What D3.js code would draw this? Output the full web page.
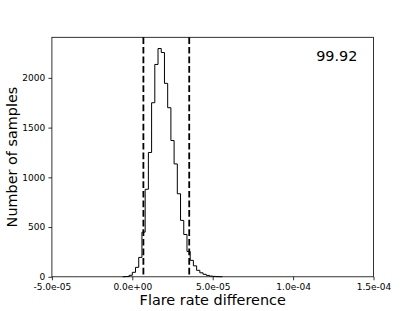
<!DOCTYPE html>
<html>
<head>
<meta charset="utf-8">
<script src="https://cdn.jsdelivr.net/npm/d3@7/dist/d3.min.js"></script>
<style>
  html, body { margin: 0; padding: 0; background: #fff; }
  svg { display: block; }
  text { font-family: "DejaVu Sans", sans-serif; fill: #000; }
</style>
</head>
<body>
<div id="chart"></div>
<script>
// ---- data ----
const binEdges = [-6e-6, -4e-6, -2e-6, 0, 2e-6, 4e-6, 6e-6, 8e-6, 10e-6, 12e-6, 14e-6,
  16e-6, 18e-6, 20e-6, 22e-6, 24e-6, 26e-6, 28e-6, 30e-6, 32e-6, 34e-6, 36e-6,
  38e-6, 40e-6, 42e-6, 44e-6, 46e-6, 48e-6, 50e-6, 52e-6, 54e-6, 56e-6];
const binCounts = [1, 3, 15, 45, 95, 195, 449, 880, 1250, 1750, 2135, 2295, 2255, 1945,
  1700, 1370, 1135, 835, 567, 425, 255, 165, 110, 65, 40, 25, 14, 7, 4, 2, 1];
const intervalLines = [6.9e-6, 35.4e-6];
const xTickValues = [-5e-5, 0, 5e-5, 1e-4, 1.5e-4];
const xTickLabels = ["-5.0e-05", "0.0e+00", "5.0e-05", "1.0e-04", "1.5e-04"];
const yTickValues = [0, 500, 1000, 1500, 2000];
const xDomain = [-5e-5, 1.5e-4];
const yDomain = [0, 2408];
const annotation = "99.92";
const xLabel = "Flare rate difference";
const yLabel = "Number of samples";

// ---- layout ----
const W = 415, H = 311;
const mL = 51.9, mR = 373.5, mT = 37.3, mB = 276.8;

const svg = d3.select("#chart").append("svg")
  .attr("width", W).attr("height", H);
svg.append("rect").attr("width", W).attr("height", H).attr("fill", "#fff");

const x = d3.scaleLinear().domain(xDomain).range([mL, mR]);
const y = d3.scaleLinear().domain(yDomain).range([mB, mT]);

// histogram step outline
const pts = [[binEdges[0], 0]];
binCounts.forEach((c, i) => pts.push([binEdges[i], c]));
pts.push([binEdges[binEdges.length - 1], 0]);
const line = d3.line().x(d => x(d[0])).y(d => y(d[1])).curve(d3.curveStepAfter);
svg.append("path").attr("d", line(pts))
  .attr("fill", "none").attr("stroke", "#000").attr("stroke-width", 1)
  .attr("stroke-linejoin", "miter");

// dashed vertical lines
svg.selectAll("line.vl").data(intervalLines).enter().append("line")
  .attr("class", "vl")
  .attr("x1", d => x(d)).attr("x2", d => x(d))
  .attr("y1", mT).attr("y2", mB)
  .attr("stroke", "#000").attr("stroke-width", 1.8)
  .attr("stroke-dasharray", "6.7,2.9");

// axes
const xAxis = d3.axisBottom(x).tickValues(xTickValues)
  .tickFormat((d, i) => xTickLabels[i]).tickSize(3.5).tickPadding(3.2);
const gx = svg.append("g").attr("transform", `translate(0,${mB})`).call(xAxis);
const yAxis = d3.axisLeft(y).tickValues(yTickValues).tickFormat(d3.format("d"))
  .tickSize(3.5).tickPadding(3.2);
const gy = svg.append("g").attr("transform", `translate(${mL},0)`).call(yAxis);
[gx, gy].forEach(g => {
  g.select(".domain").remove();
  g.selectAll(".tick line").attr("stroke", "#000").attr("stroke-width", 0.8);
  g.selectAll(".tick text").attr("font-size", "9px")
    .attr("font-family", "DejaVu Sans, sans-serif").attr("fill", "#000");
});

// frame
svg.append("rect").attr("x", mL).attr("y", mT)
  .attr("width", mR - mL).attr("height", mB - mT)
  .attr("fill", "none").attr("stroke", "#000").attr("stroke-width", 0.8);

// labels
svg.append("text").attr("x", (mL + mR) / 2).attr("y", 305)
  .attr("text-anchor", "middle").attr("font-size", "14.4px").text(xLabel);
svg.append("text")
  .attr("transform", `translate(17,${(mT + mB) / 2}) rotate(-90)`)
  .attr("text-anchor", "middle").attr("font-size", "14.4px").text(yLabel);
svg.append("text").attr("x", mL + 0.95 * (mR - mL))
  .attr("y", mB - 0.9 * (mB - mT))
  .attr("text-anchor", "end").attr("font-size", "14.4px").text(annotation);
</script>
</body>
</html>
